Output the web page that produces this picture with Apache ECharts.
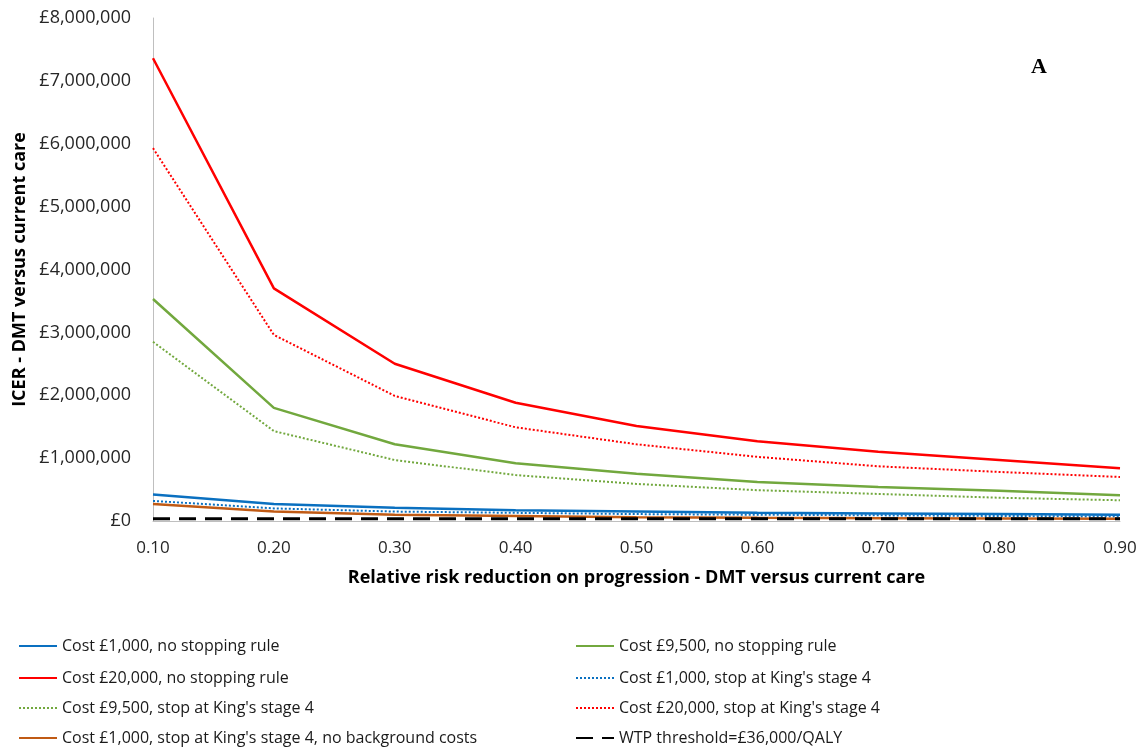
<!DOCTYPE html>
<html>
<head>
<meta charset="utf-8">
<script src="https://cdn.jsdelivr.net/npm/echarts@6/dist/echarts.min.js"></script>
<style>
html,body{margin:0;padding:0;background:#fff;}
#chart{width:1146px;height:750px;}
</style>
</head>
<body>
<div id="chart"></div>
<script>
var xCategories = ['0.10','0.20','0.30','0.40','0.50','0.60','0.70','0.80','0.90'];
var yTicks = [0,1000000,2000000,3000000,4000000,5000000,6000000,7000000,8000000];

var cost1000NoStop   = [420000, 270000, 210000, 170000, 150000, 130000, 120000, 110000, 100000];
var cost9500NoStop   = [3530000, 1800000, 1220000, 920000, 750000, 620000, 540000, 480000, 410000];
var cost20000NoStop  = [7360000, 3700000, 2500000, 1880000, 1510000, 1270000, 1100000, 970000, 840000];
var cost1000Stop4    = [320000, 200000, 150000, 130000, 110000, 100000, 90000, 80000, 70000];
var cost9500Stop4    = [2850000, 1430000, 970000, 730000, 590000, 490000, 430000, 370000, 330000];
var cost20000Stop4   = [5930000, 2960000, 1990000, 1490000, 1220000, 1020000, 870000, 780000, 700000];
var cost1000Stop4NoBg= [270000, 150000, 100000, 80000, 60000, 50000, 45000, 40000, 35000];
var wtpThreshold     = [36000, 36000, 36000, 36000, 36000, 36000, 36000, 36000, 36000];

var names = {
  b1: 'Cost £1,000, no stopping rule',
  g1: 'Cost £9,500, no stopping rule',
  r1: 'Cost £20,000, no stopping rule',
  b2: "Cost £1,000, stop at King's stage 4",
  g2: "Cost £9,500, stop at King's stage 4",
  r2: "Cost £20,000, stop at King's stage 4",
  o1: "Cost £1,000, stop at King's stage 4, no background costs",
  w:  'WTP threshold=£36,000/QALY'
};

var BLUE = '#0A70C0', GREEN = '#72A83E', RED = '#FF0000', BROWN = '#C05A14';
var FONT = 'Open Sans';

function fmt(v){
  var s = String(Math.round(v));
  s = s.replace(/\B(?=(\d{3})+(?!\d))/g, ',');
  return '£' + s;
}

function line(name, data, color, type, width, z){
  return {
    name: name, type: 'line', data: data, symbol: 'none', z: z || 2,
    lineStyle: {color: color, type: type, width: width},
    itemStyle: {color: color},
    emphasis: {disabled: true}, animation: false
  };
}

var legendText = {fontFamily: FONT, fontSize: 16, color: '#1a1a1a'};
function lg(name, left, top){
  return {data: [name], left: left, top: top, itemWidth: 38, itemHeight: 12,
          itemStyle: {opacity: 0},
          textStyle: legendText, padding: 0, selectedMode: false};
}

var chart = echarts.init(document.getElementById('chart'), null, {renderer: 'canvas'});
chart.setOption({
  animation: false,
  backgroundColor: '#ffffff',
  grid: {left: 153, right: 26, top: 18, bottom: 229, containLabel: false},
  xAxis: {
    type: 'category', data: xCategories, boundaryGap: false,
    name: 'Relative risk reduction on progression - DMT versus current care',
    nameLocation: 'middle', nameGap: 48,
    nameTextStyle: {fontFamily: FONT, fontSize: 18, fontWeight: 'bold', color: '#000'},
    axisLine: {show: true, lineStyle: {color: '#BFBFBF', width: 1}},
    axisTick: {show: false},
    axisLabel: {fontFamily: FONT, fontSize: 17, color: '#262626', margin: 19},
    splitLine: {show: false}
  },
  yAxis: {
    type: 'value', min: 0, max: 8000000, interval: 1000000,
    name: 'ICER - DMT versus current care',
    nameLocation: 'middle', nameGap: 116, nameRotate: 90,
    nameTextStyle: {fontFamily: FONT, fontSize: 18, fontWeight: 'bold', color: '#000'},
    axisLine: {show: true, lineStyle: {color: '#BFBFBF', width: 1}},
    axisTick: {show: false},
    axisLabel: {fontFamily: FONT, fontSize: 18, color: '#262626', margin: 22, formatter: fmt},
    splitLine: {show: false}
  },
  legend: [
    lg(names.b1, 18, 638), lg(names.r1, 18, 670), lg(names.g2, 18, 700), lg(names.o1, 18, 730),
    lg(names.g1, 575, 638), lg(names.b2, 575, 670), lg(names.r2, 575, 700), lg(names.w, 575, 730)
  ],
  graphic: [{
    type: 'text', left: 1031, top: 56,
    style: {text: 'A', font: 'bold 22px "Liberation Serif"', fill: '#000'}
  }],
  series: [
    line(names.b1, cost1000NoStop, BLUE, 'solid', 2.5, 3),
    line(names.g1, cost9500NoStop, GREEN, 'solid', 2.5, 3),
    line(names.r1, cost20000NoStop, RED, 'solid', 2.5, 3),
    line(names.b2, cost1000Stop4, BLUE, 'dotted', 2, 3),
    line(names.g2, cost9500Stop4, GREEN, 'dotted', 2, 3),
    line(names.r2, cost20000Stop4, RED, 'dotted', 2, 3),
    line(names.o1, cost1000Stop4NoBg, BROWN, 'solid', 2.5, 3),
    line(names.w, wtpThreshold, '#000000', [17, 9], 3, 4)
  ]
});
</script>
</body>
</html>
